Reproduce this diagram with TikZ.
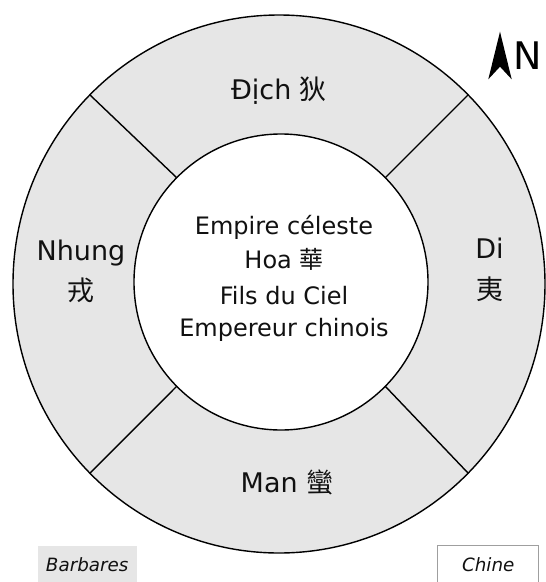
\documentclass[tikz,border=0pt]{standalone}
\usepackage{fontspec}
\setmainfont{DejaVu Sans}[ItalicFont={DejaVu Sans Oblique}]
\newfontfamily\cjk{Noto Sans CJK TC}
\usetikzlibrary{shapes.geometric}
\definecolor{ringgray}{HTML}{E6E6E6}
\definecolor{inkcol}{HTML}{111111}
\begin{document}
\begin{tikzpicture}[x=1pt,y=-1pt,
  ringline/.style={draw=black, line width=1.4pt},
  disc/.style={ellipse, ringline, inner sep=0pt, outer sep=0pt},
  lbl/.style={anchor=base, inner sep=0pt, text=inkcol, font=\fontsize{27}{27}\selectfont},
  ctr/.style={anchor=base, inner sep=0pt, text=inkcol, font=\fontsize{24}{24}\selectfont},
  legend/.style={inner sep=0pt, anchor=north west, text=inkcol, font=\itshape\fontsize{18.3}{18.3}\selectfont}
]
\useasboundingbox (0,0) rectangle (546,582);
\clip (0,0) rectangle (546,582);
% rings
\node[disc, fill=ringgray, minimum width=532pt, minimum height=538pt] (outer) at (279,284) {};
\node[disc, fill=white, minimum width=294pt, minimum height=296pt] (inner) at (281,282) {};
\foreach \a in {45,135,225,315}
  \draw[ringline] (outer.\a) -- (inner.\a);
% ring labels
\node[lbl] (dich) at (279,99) {Địch {\cjk 狄}};
\node[lbl] (nhung) at (81,260) {Nhung};
\node[lbl] (rong) at (81,300) {\cjk 戎};
\node[lbl] (di) at (489.5,258) {Di};
\node[lbl] (yi) at (489.5,299) {\cjk 夷};
\node[lbl] (man) at (287,492) {Man {\cjk 蠻}};
% centre
\node[ctr] (c1) at (284,234) {Empire céleste};
\node[ctr] (c2) at (284,268) {Hoa {\cjk 華}};
\node[ctr] (c3) at (284,304) {Fils du Ciel};
\node[ctr] (c4) at (284,336) {Empereur chinois};
% north arrow
\fill[black] (500,31.7) -- (488.3,79.3) -- (500,66.7) -- (511.7,79.3) -- cycle;
\node[anchor=base west, inner sep=0pt, text=black, font=\fontsize{38}{38}\selectfont] (north) at (513.5,69) {N};
% legend
\node[legend, fill=ringgray, minimum width=99.4pt, minimum height=38pt] (barb) at (37.3,545.7) {Barbares};
\node[legend, draw=gray!75, line width=0.8pt, fill=white, minimum width=101pt, minimum height=39pt] (chine) at (437.3,545) {Chine};
\end{tikzpicture}
\end{document}
